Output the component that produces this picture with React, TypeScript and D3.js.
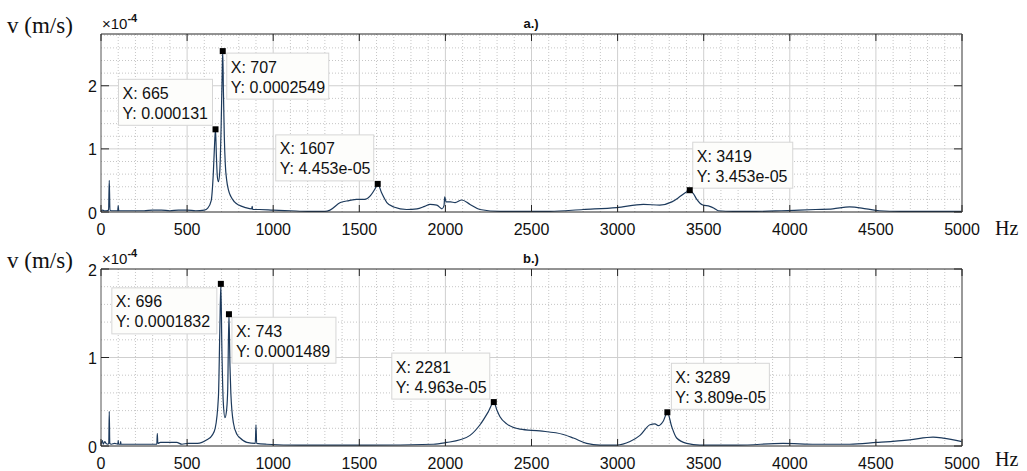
import React, { useEffect, useRef } from 'react';
import * as d3 from 'd3';

// Spectrum a.) - frequency (Hz) and velocity (in units of 1e-4 m/s)
const topFreq = [0, 10, 20, 30, 44, 48, 52, 60, 80, 97, 100, 103, 150, 200, 250, 300, 350, 400, 450, 500, 550, 600, 620, 640, 652, 660, 665, 670, 676, 682, 690, 698, 703, 707, 711, 716, 722, 730, 740, 755, 775, 800, 840, 875, 878, 881, 920, 1000, 1100, 1200, 1300, 1330, 1390, 1440, 1485, 1530, 1565, 1590, 1607, 1630, 1660, 1700, 1775, 1835, 1880, 1911, 1950, 1980, 1992, 1996, 2004, 2030, 2056, 2095, 2143, 2200, 2320, 2450, 2607, 2800, 2995, 3150, 3245, 3315, 3360, 3395, 3419, 3440, 3460, 3495, 3535, 3560, 3585, 3670, 3800, 3950, 4056, 4150, 4250, 4347, 4444, 4520, 4640, 4800, 5000];
const topVal = [0.02, 0.03, 0.02, 0.02, 0.03, 0.5, 0.03, 0.02, 0.02, 0.02, 0.1, 0.02, 0.02, 0.02, 0.02, 0.03, 0.03, 0.02, 0.03, 0.03, 0.02, 0.03, 0.06, 0.18, 0.6, 1.1, 1.31, 0.9, 0.55, 0.48, 0.65, 1.4, 2.1, 2.549, 1.9, 1.2, 0.75, 0.5, 0.35, 0.24, 0.16, 0.11, 0.07, 0.05, 0.09, 0.04, 0.04, 0.03, 0.02, 0.01, 0.01, 0.03, 0.15, 0.18, 0.2, 0.2, 0.26, 0.36, 0.4453, 0.3, 0.15, 0.08, 0.04, 0.05, 0.09, 0.12, 0.11, 0.05, 0.1, 0.24, 0.16, 0.16, 0.15, 0.19, 0.12, 0.04, 0.01, 0.01, 0.01, 0.04, 0.07, 0.12, 0.11, 0.16, 0.24, 0.31, 0.3453, 0.29, 0.2, 0.11, 0.09, 0.06, 0.02, 0.01, 0.01, 0.02, 0.03, 0.04, 0.05, 0.08, 0.05, 0.02, 0.01, 0.01, 0.01];

// Spectrum b.)
const bottomFreq = [0, 8, 13, 22, 29, 40, 45, 48, 51, 60, 80, 98, 100, 102, 112, 114, 116, 200, 300, 324, 327, 330, 345, 440, 470, 506, 560, 615, 645, 663, 682, 690, 696, 702, 710, 720, 730, 736, 743, 749, 754, 769, 790, 808, 847, 896, 900, 904, 962, 1156, 1543, 1930, 2008, 2085, 2143, 2201, 2250, 2281, 2300, 2317, 2356, 2433, 2549, 2685, 2743, 2820, 2898, 2994, 3072, 3130, 3188, 3217, 3236, 3265, 3289, 3314, 3343, 3401, 3478, 3700, 3961, 4150, 4348, 4503, 4697, 4832, 4890, 5000];
const bottomVal = [0.02, 0.06, 0.02, 0.05, 0.03, 0.02, 0.03, 0.39, 0.03, 0.02, 0.03, 0.02, 0.06, 0.02, 0.02, 0.05, 0.02, 0.02, 0.02, 0.02, 0.14, 0.03, 0.04, 0.04, 0.02, 0.03, 0.03, 0.07, 0.12, 0.2, 0.56, 1.3, 1.832, 1.1, 0.5, 0.32, 0.42, 0.65, 1.489, 0.9, 0.6, 0.26, 0.13, 0.09, 0.04, 0.03, 0.24, 0.03, 0.02, 0.01, 0.01, 0.02, 0.04, 0.07, 0.12, 0.24, 0.39, 0.4963, 0.4, 0.33, 0.25, 0.19, 0.17, 0.13, 0.09, 0.03, 0.01, 0.01, 0.05, 0.12, 0.24, 0.25, 0.23, 0.28, 0.3809, 0.22, 0.09, 0.03, 0.01, 0.01, 0.03, 0.02, 0.02, 0.04, 0.07, 0.1, 0.09, 0.05];

// data tips
const topTipX = [665, 707, 1607, 3419];
const topTipY = ['0.000131', '0.0002549', '4.453e-05', '3.453e-05'];
const bottomTipX = [696, 743, 2281, 3289];
const bottomTipY = ['0.0001832', '0.0001489', '4.963e-05', '3.809e-05'];

const xTicks = [0, 500, 1000, 1500, 2000, 2500, 3000, 3500, 4000, 4500, 5000];
const yTicks = [0, 1, 2];

const SANS = 'Liberation Sans, Arial, sans-serif';
const SERIF = 'Liberation Serif, Times New Roman, serif';

const drawPanel = (svg, opt) => {
    const { freq, val, tipX, tipY, tipBoxes, top, bottom, yMax, title, hzOffset } = opt;
    const left = 101, right = 962;

    const x = d3.scaleLinear().domain([0, 5000]).range([left, right]);
    const y = d3.scaleLinear().domain([0, yMax]).range([bottom, top]);

    const g = svg.append('g');

    g.append('rect')
        .attr('x', left).attr('y', top)
        .attr('width', right - left).attr('height', bottom - top)
        .attr('fill', '#fff');

    // minor grid (dotted)
    const minorX = d3.range(100, 5000, 100).filter(d => d % 500 !== 0);
    const minorY = d3.range(0.2, yMax, 0.2).filter(d => Math.abs(d - Math.round(d)) > 0.01);
    g.selectAll('.mx').data(minorX).join('line')
        .attr('x1', d => x(d)).attr('x2', d => x(d))
        .attr('y1', top).attr('y2', bottom)
        .attr('stroke', '#b8b8b8').attr('stroke-width', 0.8).attr('stroke-dasharray', '1,2');
    g.selectAll('.my').data(minorY).join('line')
        .attr('x1', left).attr('x2', right)
        .attr('y1', d => y(d)).attr('y2', d => y(d))
        .attr('stroke', '#b8b8b8').attr('stroke-width', 0.8).attr('stroke-dasharray', '1,2');

    // major grid
    g.selectAll('.gx').data(xTicks.slice(1, -1)).join('line')
        .attr('x1', d => x(d)).attr('x2', d => x(d))
        .attr('y1', top).attr('y2', bottom)
        .attr('stroke', '#cfcfcf').attr('stroke-width', 1);
    g.selectAll('.gy').data(yTicks.filter(d => d > 0 && d < yMax)).join('line')
        .attr('x1', left).attr('x2', right)
        .attr('y1', d => y(d)).attr('y2', d => y(d))
        .attr('stroke', '#cfcfcf').attr('stroke-width', 1);

    // spectrum line
    const line = d3.line()
        .x(d => x(d[0]))
        .y(d => y(d[1]))
        .curve(d3.curveMonotoneX);
    g.append('path')
        .datum(d3.zip(freq, val))
        .attr('d', line)
        .attr('fill', 'none')
        .attr('stroke', '#1d3a5c')
        .attr('stroke-width', 1.2);

    // frame and tick marks
    g.append('line').attr('x1', left).attr('x2', right).attr('y1', top).attr('y2', top).attr('stroke', '#262626');
    g.append('line').attr('x1', left).attr('x2', right).attr('y1', bottom).attr('y2', bottom).attr('stroke', '#262626');
    g.append('line').attr('x1', left).attr('x2', left).attr('y1', top).attr('y2', bottom).attr('stroke', '#555');
    g.append('line').attr('x1', right).attr('x2', right).attr('y1', top).attr('y2', bottom).attr('stroke', '#777').attr('stroke-width', 1.5);

    g.selectAll('.tb').data(xTicks).join('line')
        .attr('x1', d => x(d)).attr('x2', d => x(d))
        .attr('y1', bottom).attr('y2', bottom - 7)
        .attr('stroke', '#262626');
    g.selectAll('.tt').data(xTicks).join('line')
        .attr('x1', d => x(d)).attr('x2', d => x(d))
        .attr('y1', top).attr('y2', top + 7)
        .attr('stroke', '#262626');
    g.selectAll('.tl').data(yTicks.filter(d => d <= yMax)).join('line')
        .attr('x1', left).attr('x2', left + 8)
        .attr('y1', d => y(d)).attr('y2', d => y(d))
        .attr('stroke', '#262626');
    g.selectAll('.tr').data(yTicks.filter(d => d <= yMax)).join('line')
        .attr('x1', right).attr('x2', right - 8)
        .attr('y1', d => y(d)).attr('y2', d => y(d))
        .attr('stroke', '#262626');

    // tick labels
    g.selectAll('.xl').data(xTicks).join('text')
        .attr('x', d => x(d)).attr('y', bottom + 17)
        .attr('dy', '0.35em')
        .attr('text-anchor', 'middle')
        .attr('font-family', SANS).attr('font-size', 16)
        .attr('fill', '#111')
        .text(d => d);
    g.selectAll('.yl').data(yTicks.filter(d => d <= yMax)).join('text')
        .attr('x', left - 4).attr('y', d => y(d) + 1)
        .attr('dy', '0.35em')
        .attr('text-anchor', 'end')
        .attr('font-family', SANS).attr('font-size', 16)
        .attr('fill', '#111')
        .text(d => d);

    // exponent
    const ex = g.append('text')
        .attr('x', left + 1).attr('y', top - 5)
        .attr('font-family', SANS).attr('font-size', 15)
        .attr('fill', '#111');
    ex.append('tspan').text('\u00d710');
    ex.append('tspan').attr('dy', -7).attr('font-size', 11).attr('font-weight', 'bold').text('-4');

    // title
    g.append('text')
        .attr('x', 531).attr('y', top - 11)
        .attr('dy', '0.35em')
        .attr('text-anchor', 'middle')
        .attr('font-family', SANS).attr('font-size', 13).attr('font-weight', 'bold')
        .attr('fill', '#111')
        .text(title);

    // axis labels
    g.append('text')
        .attr('x', 7).attr('y', top - 9)
        .attr('dy', '0.35em')
        .attr('font-family', SERIF).attr('font-size', 23)
        .attr('fill', '#111')
        .text('v (m/s)');
    g.append('text')
        .attr('x', 995).attr('y', bottom + hzOffset)
        .attr('dy', '0.35em')
        .attr('font-family', SERIF).attr('font-size', 20)
        .attr('fill', '#111')
        .text('Hz');

    // data tips
    tipX.forEach((fx, i) => {
        const idx = freq.indexOf(fx);
        const px = x(fx);
        const py = y(val[idx]);
        const b = tipBoxes[i];
        const tg = g.append('g').attr('transform', `translate(${px + b[0]},${py + b[1]})`);
        tg.append('rect')
            .attr('width', b[2]).attr('height', 46)
            .attr('fill', '#fdfdfb')
            .attr('stroke', '#d6d6d6');
        tg.append('text')
            .attr('x', 4).attr('y', 14).attr('dy', '0.35em')
            .attr('font-family', SANS).attr('font-size', 16).attr('fill', '#111')
            .text(`X: ${fx}`);
        tg.append('text')
            .attr('x', 4).attr('y', 34).attr('dy', '0.35em')
            .attr('font-family', SANS).attr('font-size', 16).attr('fill', '#111')
            .text(`Y: ${tipY[i]}`);
        g.append('rect')
            .attr('x', px - 3).attr('y', py - 3)
            .attr('width', 6).attr('height', 6)
            .attr('fill', '#000');
    });
};

const App = () => {
    const svgRef = useRef(null);

    useEffect(() => {
        const svg = d3.select(svgRef.current);
        svg.selectAll('*').remove();

        drawPanel(svg, {
            freq: topFreq, val: topVal, tipX: topTipX, tipY: topTipY,
            tipBoxes: [[-97, -50, 94], [4, 2, 102], [-102, -49, 98], [3, -48, 100]],
            top: 34, bottom: 212, yMax: 2.82, title: 'a.)', hzOffset: 16
        });
        drawPanel(svg, {
            freq: bottomFreq, val: bottomVal, tipX: bottomTipX, tipY: bottomTipY,
            tipBoxes: [[-109, 4, 105], [3, 3, 104], [-102, -49, 98], [4, -49, 98]],
            top: 269, bottom: 446, yMax: 2, title: 'b.)', hzOffset: 13
        });
    }, []);

    return (
        <div style={{ position: 'absolute', left: 0, top: 0 }}>
            <svg ref={svgRef} width={1027} height={471} style={{ display: 'block', background: '#fff' }}></svg>
        </div>
    );
};

export default App;
